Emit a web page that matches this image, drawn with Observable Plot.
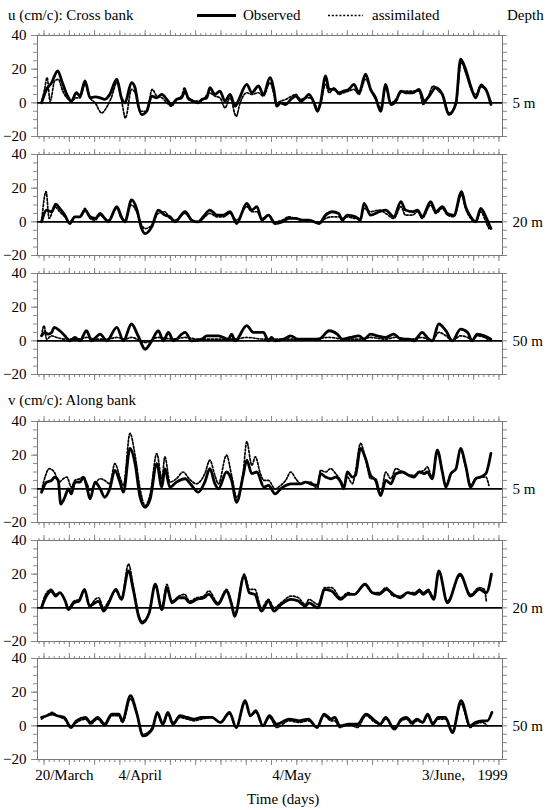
<!DOCTYPE html>
<html><head><meta charset="utf-8">
<script src="https://cdn.jsdelivr.net/npm/d3@7"></script>
<script src="https://cdn.jsdelivr.net/npm/@observablehq/plot@0.6"></script>
<style>
body{margin:0;background:#fff;}
#chart{position:relative;width:550px;height:810px;font-family:"Liberation Serif","Times New Roman",serif;color:#000;background:#fff;overflow:hidden;}
.lbl{position:absolute;font-size:15px;white-space:nowrap;line-height:15px;}
#chart svg{position:absolute;left:0;}
</style></head><body><div id="chart"></div>
<script>
// ---- data: [day since start of record, value in cm/s] ----
const u5Obs = [[0,0],[1,8],[2,12],[3.2,19],[4,13],[5,5],[5.9,1],[6.9,6],[7.6,4],[8.6,13],[9.6,3],[10.6,3.5],[11.6,3],[12.5,2],[13.5,5],[14.9,14],[15.8,3],[16.5,0],[17.8,12],[18.5,9],[19.1,-1],[19.8,-7],[20.8,-5],[21.8,4],[22.8,3],[23.8,5],[24.8,2],[25.7,-1],[26.7,2],[27.7,3],[28.4,7],[29,3],[30,1],[31,0],[31.7,2],[32.7,3],[33.3,9],[34.3,5],[35.3,7],[36.3,1],[37.3,5],[38.3,-2],[38.9,1],[40.6,11],[41.6,6],[42.9,10],[43.9,5],[45.2,15],[46,7],[46.5,-2],[47.3,0],[48.3,-1],[49.3,2],[50.3,4],[51.3,1],[52.2,3],[52.9,5],[53.9,0],[54.6,-5],[55.2,0],[56.2,16],[56.9,8],[57.9,8],[58.8,6],[59.8,7],[60.8,8],[61.8,11],[62.8,6],[64.1,17],[65.1,8],[66.1,3],[67.1,-5],[68.1,11],[69.1,-1],[70.1,1],[71.1,7],[72,6],[73.4,6],[74.7,8],[75.7,1],[76.7,4],[78,9],[79.3,5],[80.6,-7],[82,0],[82.9,26],[83.9,20],[84.9,10],[85.9,3],[86.9,10],[87.9,8],[88.9,-1]];
const u5Asm = [[0,0],[0.6,8],[1.1,15],[1.7,1],[2.6,13],[3.3,14],[4.2,7],[5,3],[5.9,1],[6.9,3],[7.6,3],[8.6,11],[9.6,3],[10.6,0],[11.9,-6],[13,-2],[13.8,3],[14.9,12],[15.8,2],[16.6,-9],[17.8,8],[18.5,6],[19.5,-5],[20.8,-5],[21.9,8],[22.8,4],[23.8,3],[24.8,0],[25.7,-2],[26.7,2],[27.7,4],[28.3,9],[29,2],[30,1],[31,1],[32,2],[33.2,6],[34.3,4],[35.3,3],[36.3,-3],[37.3,3],[38.5,-8],[39.3,0],[40.6,6],[41.6,5],[42.9,6],[43.9,4],[45.2,12],[46,5],[46.5,0],[47.3,1],[48.3,2],[49.5,4],[50.3,5],[51.3,2],[52.2,3],[53.3,3],[54,0],[54.6,-4],[55.2,0],[56.2,11],[56.9,6],[57.9,9],[58.8,5],[59.8,6],[60.8,7],[61.8,8],[62.8,5],[64.1,14],[65.1,8],[66.1,2],[67.1,-3],[68.1,9],[69.1,0],[70.1,2],[71.1,6],[72,7],[73.4,7],[74.7,7],[75.5,-1],[76.4,3],[77.5,10],[78.5,7],[79.5,4],[80.6,-6],[82,-1],[83,24],[84,17],[85,8],[86,5],[87,11],[88,7],[88.9,1]];
const u20Obs = [[0,0],[1,7],[2,6],[2.8,10.5],[3.6,8],[4.6,4],[5.6,-1],[6.6,3],[7.6,3],[8.6,7],[9.6,3],[10.6,2],[11.6,5],[12.5,2],[13.2,0],[14.9,9],[15.8,3],[16.5,0],[17.8,13],[18.8,8],[19.8,-4],[20.5,-7],[21.8,-3],[23.1,7],[24.4,4],[25.4,3],[26.4,0],[28.4,6],[29.7,1],[31,0],[32,3],[33.3,7],[34.7,4],[36,4],[37.3,6],[38.6,-1],[40.6,11],[41.6,7],[42.6,9],[43.6,1],[44.9,4],[46.2,-1],[47.6,0],[48.9,2],[50.3,2],[51.6,1],[52.9,1],[54.9,-1],[56.2,4],[57.5,6],[58.8,5],[59.5,1],[60.5,4],[62.1,3],[63.1,1],[63.8,11],[65.1,4],[66.8,6],[68.1,7],[69.7,3],[71.1,12],[72,7],[73.4,6],[74.4,7],[75.3,3],[77,12],[78,6],[79.3,9],[80.3,5],[81.6,4],[83.1,18],[83.9,9],[84.9,3],[85.9,0],[86.9,8],[87.9,3],[88.9,-4]];
const u20Asm = [[0,0],[0.9,18],[1.5,2],[2.6,9],[3.6,6],[4.6,3],[5.6,0],[6.6,3],[7.6,3],[8.6,8],[9.6,2],[10.6,1],[11.6,4],[12.5,2],[13.2,1],[14.9,8],[15.8,2],[16.5,1],[17.8,10],[18.8,6],[19.8,-2],[20.5,-4],[21.8,-2],[23.1,5],[24.4,6],[25.4,2],[26.4,1],[28.4,5],[29.7,1],[31,0],[32,2],[33.3,5],[34.7,3],[36,3],[37.3,5],[38.6,1],[40.6,9],[41.6,6],[42.6,6],[43.6,2],[44.9,4],[46.2,0],[47.6,1],[48.9,3],[50.3,2],[51.6,1],[52.9,1],[54.9,-1],[56.2,2],[57.5,3],[58.8,3],[59.5,2],[60.5,3],[62.1,2],[63.1,2],[63.8,8],[65.1,6],[66.8,7],[68.1,5],[69.7,2],[71.1,9],[72,4],[73.4,4],[74.4,6],[75.3,2],[77,10],[78,5],[79.3,8],[80.3,4],[81.6,3],[83.1,16],[83.9,8],[84.9,2],[85.9,0],[86.9,6],[87.9,0],[88.5,-4]];
const u50Obs = [[0,3],[0.7,5],[1.3,4],[2,5],[2.5,8],[3.6,6],[4.6,3],[5.6,0],[6.6,2],[7.6,0],[8.9,6],[9.9,0],[11.6,4],[12.9,0],[14.9,8],[16.2,0],[17.8,10],[19.1,3],[20.5,-5],[21.8,0],[23.1,6],[24.1,0],[25.1,5],[26.1,0],[28.4,5],[29.7,0],[31.7,1],[32.7,3],[35,3],[37,1],[37.6,4],[38.3,0],[40.6,9],[41.9,5],[43.9,5],[44.9,0],[45.5,2],[46.2,0],[47.9,1],[49.3,3],[50.6,1],[52.2,1],[53.6,1],[54.9,1],[56.9,6],[58.5,4],[59.5,1],[61.1,2],[62.8,3],[63.8,1],[65.1,4],[66.4,3],[68.1,2],[69.7,4],[71.1,1],[72.7,1],[73.7,0],[75.3,5],[76.3,2],[77.3,0],[78.6,10],[80,6],[81.3,0],[82.9,7],[84.3,5],[85.2,0],[86.2,4],[87.6,3],[88.9,1]];
const u50Asm = [[0,3],[0.5,9],[1,1],[2,3],[3,2],[5,1],[7,1],[8.9,2],[11,1],[12.9,1],[14.9,2],[16.5,1],[17.8,2],[20.5,-1],[23.1,2],[26,1],[28.4,2],[31,1],[35,1],[38,1],[40.6,2],[44,1],[47,1],[50,1],[53,1],[56.9,2],[60,1],[62.8,1],[65.1,2],[68,1],[70,2],[73,1],[75.3,2],[77.3,0],[78.6,5],[80,3],[81.3,0],[82.9,3],[84.3,2],[85.2,0],[86.2,3],[88.9,0]];
const v5Obs = [[0,-2],[1,4],[2,5],[2.6,7],[3.3,5],[3.8,-9],[4.6,-5],[5.3,0],[5.9,-3],[6.6,4],[7.6,4],[8.3,7],[8.9,2],[9.6,-6],[10.6,4],[11.6,0],[12.5,-5],[13.5,0],[14.5,11],[15.5,4],[16.2,-2],[17.5,24],[18.5,15],[19.5,-5],[20.5,-11],[21.5,-6],[22.8,15],[23.8,1],[24.4,12],[25.4,1],[26.7,4],[28.4,6],[29.7,2],[31,-2],[32.3,4],[33.3,12],[34.3,3],[35,0],[36.6,10],[37.6,5],[38.6,-8],[39.9,8],[40.6,17],[41.6,9],[42.6,10],[44,1],[44.9,2],[46.2,-3],[47.3,0],[48.3,2],[49.3,3],[50.3,3],[51.3,3],[52.2,4],[53.2,3],[54.6,2],[55.2,9],[56.2,7],[57.2,6],[58.2,7],[59.2,4],[59.8,0],[60.5,10],[61.5,7],[62.1,8],[63.1,24],[64.1,18],[65.1,8],[66.1,5],[67.1,-4],[68.1,5],[69.1,3],[70.1,9],[71.4,10],[72.7,8],[73.7,7],[74.7,10],[75.7,9],[76.3,10],[77.3,6],[78.3,23],[79.3,10],[80,1],[81,9],[82,12],[82.9,24],[83.9,14],[84.9,1],[85.9,6],[86.9,7],[87.9,9],[88.9,21]];
const v5Asm = [[0,-1],[0.8,8],[1.5,12],[2.5,10],[3.5,4],[4.3,6],[5,7],[5.9,1],[6.6,5],[7.6,6],[8.3,7],[9,3],[9.6,-1],[10.6,3],[11.6,6],[12.5,5],[13.5,3],[14.5,15],[15.5,7],[16.2,2],[17.5,33],[18.5,20],[19.5,0],[20.5,-10],[21.5,-3],[22.8,21],[23.8,6],[24.4,19],[25.4,4],[26.7,6],[28,10],[29.2,6],[30.6,3],[32.3,9],[33.3,17],[34.3,8],[35,3],[36.6,20],[37.6,8],[38.6,-5],[39.9,10],[40.6,28],[41.6,14],[42.3,19],[43.3,9],[44,5],[44.9,5],[46.2,0],[47.3,2],[48.3,5],[49.3,10],[50.3,6],[51.3,3],[52.2,4],[53.2,4],[54.6,0],[55.2,11],[56.2,10],[57.2,12],[58.2,9],[59.2,5],[59.8,2],[60.5,7],[61.5,3],[62.1,10],[63.1,27],[64.1,18],[65.1,6],[66.1,6],[67.1,-3],[68.1,10],[69.1,6],[70.1,12],[71.4,10],[72.7,8],[73.7,8],[74.7,10],[75.7,11],[76.3,13],[77.3,7],[78.3,23],[79.3,10],[80,2],[81,9],[82,12],[82.9,24],[83.9,13],[84.9,2],[85.9,6],[86.9,7],[87.9,7],[88.5,2]];
const v20Obs = [[0,0],[0.8,6],[1.9,10],[2.8,7],[3.6,9],[4.7,4],[5.3,-1],[6.4,3],[7.4,4],[8.5,11],[9.5,1],[10.6,3],[11.3,4],[12.3,-2],[13.3,3],[14.7,11],[15.8,5],[17.2,22],[18.2,10],[19.2,-5],[19.9,-9],[21.3,-3],[22.5,14],[23.8,-1],[24.8,12],[25.8,3],[27.2,6],[28.3,6],[29.3,3],[30.7,5],[32.1,6],[33.1,8],[34.9,2],[36.6,10],[37.6,2],[38.2,-5],[40.1,19],[41.1,9],[42.2,8],[43.5,-2],[44.9,4],[46,-2],[47.4,2],[49.4,5],[50.8,4],[52.2,1],[52.9,3],[54.7,0],[56,11],[57.4,10],[59.2,5],[60.6,8],[61.9,8],[64,14],[65.4,9],[66.8,8],[68.2,11],[69.6,8],[71,6],[72.4,9],[73.8,8],[74.8,10],[75.5,8],[76.5,10],[77.6,5],[78.6,22],[80.3,3],[82.8,20],[84.9,7],[86.6,11],[88,9],[89,20]];
const v20Asm = [[0,1],[0.8,8],[1.9,11],[2.8,8],[3.6,9],[4.7,4],[5.3,0],[6.4,4],[7.4,5],[8.5,10],[9.5,1],[10.6,5],[11.3,6],[12.3,0],[13.3,4],[14.7,10],[15.8,5],[17.2,26],[18.2,12],[19.2,-4],[19.9,-8],[21.3,-3],[22.5,14],[23.8,0],[24.8,14],[25.8,4],[27.2,7],[28.3,8],[29.3,4],[30.7,6],[32.1,7],[33.1,10],[34.9,3],[36.6,11],[37.6,3],[38.2,-4],[40.1,20],[41.1,11],[42.2,11],[43.5,0],[44.9,5],[46,0],[47.4,3],[49.4,7],[50.8,6],[52.2,2],[52.9,5],[54.7,2],[56,12],[57.4,12],[59.2,6],[60.6,9],[61.9,8],[64,14],[65.4,9],[66.8,9],[68.2,12],[69.6,7],[71,7],[72.4,9],[73.8,9],[74.8,11],[75.5,9],[76.5,11],[77.6,6],[78.6,21],[80.3,4],[82.8,19],[84.9,8],[86.6,12],[87.6,11],[88,4]];
const v50Obs = [[0,5],[1,6],[2.1,7],[3.1,6],[4.5,5],[5.8,-1],[6.9,3],[8.7,5],[9.7,2],[11.1,5],[12.5,1],[13.9,7],[15.3,7],[16,3],[17.6,18],[18.8,8],[20.1,-6],[21.9,-2],[22.9,8],[24,1],[25,8],[26,1],[27.4,6],[28.8,5],[30.2,4],[31.6,5],[33.7,5],[35.4,2],[37.2,8],[38.5,-1],[40.3,15],[41.3,6],[42.4,9],[43.8,0],[45.1,6],[46.5,1],[49,4],[51,3],[52.8,4],[54.5,-1],[55.9,7],[57.3,4],[58,5],[59,0],[60.8,1],[62.5,1],[64.2,7],[66,3],[67,1],[68.1,5],[69.8,-2],[71.2,4],[72.2,5],[73.3,2],[74.3,4],[75.4,2],[76.4,7],[77.4,1],[78.5,5],[79.9,5],[81.3,-4],[83,15],[84.8,0],[85.8,2],[87.2,3],[88.2,3],[89.1,8]];
const v50Asm = [[0,4],[1,6],[2.1,8],[3.1,6],[4.5,4],[5.8,0],[6.9,2],[8.7,4],[9.7,1],[11.1,4],[12.5,0],[13.9,6],[15.3,6],[16,2],[17.6,16],[18.8,7],[20.1,-5],[21.9,-1],[22.9,7],[24,1],[25,7],[26,2],[27.4,5],[28.8,4],[30.2,3],[31.6,4],[33.7,5],[35.4,2],[37.2,7],[38.5,-1],[40.3,14],[41.3,6],[42.4,8],[43.8,0],[45.1,5],[46.5,-1],[49,3],[51,2],[52.8,3],[54.5,-1],[55.9,6],[57.3,3],[58,3],[59,-1],[60.8,1],[62.5,-1],[64.2,6],[66,2],[67,1],[68.1,4],[69.8,-1],[71.2,3],[72.2,4],[73.3,1],[74.3,3],[75.4,2],[76.4,6],[77.4,2],[78.5,4],[79.9,4],[81.3,-3],[83,13],[84.8,-1],[85.8,1],[87.2,2],[88.2,0]];

const depthLabels = ["5 m", "20 m", "50 m"];
const dateTickDays = [20, 35, 65, 95];            // day counted from 1 March 1999
const dateTickLabels = ["20/March", "4/April", "4/May", "3/June,"];
const yearLabel = "1999";
const yTickLabels = [-20, 0, 20, 40];

// ---- layout ----
const startDay = 14.5;          // record start, day of March
const xDomain = [13.7, 105.7];
const yDomain = [-20, 40];
const FONT = "'Liberation Serif','Times New Roman',serif";
const frameTops = [35, 154, 273, 421, 540, 658];
const MT = 9, PH = 101;
const DOTS = "2,1.8";

const toRows = arr => arr.map(([t, v]) => ({d: startDay + t, v}));

function panel(obs, asm, depth, last) {
  const mb = last ? 52 : 9;
  const marks = [
    Plot.axisX({anchor: "top", ticks: d3.range(14, 106), tickSize: 3, tickFormat: () => "", label: null, stroke: "#888"}),
    Plot.axisX({anchor: "top", ticks: d3.range(15, 106, 5), tickSize: 6, tickFormat: () => "", label: null, stroke: "#888"}),
    Plot.axisX({anchor: "bottom", ticks: d3.range(14, 106), tickSize: 3, tickFormat: () => "", label: null, stroke: "#888"}),
    Plot.axisX({anchor: "bottom", ticks: d3.range(15, 106, 5), tickSize: 6, tickFormat: () => "", label: null, stroke: "#888"}),
    Plot.axisY({anchor: "left", ticks: d3.range(-20, 41, 5), tickSize: 4, tickFormat: () => "", label: null, stroke: "#888"}),
    Plot.axisY({anchor: "left", ticks: yTickLabels, tickSize: 6, tickPadding: 5, label: null, stroke: "#888", fill: "#000"}),
    Plot.axisY({anchor: "right", ticks: d3.range(-20, 41, 5), tickSize: 4, tickFormat: () => "", label: null, stroke: "#888"}),
    Plot.frame({stroke: "#777", strokeWidth: 1}),
    Plot.ruleY([0], {stroke: "#000", strokeWidth: 1.6}),
    Plot.line(toRows(asm), {x: "d", y: "v", curve: "monotone-x", stroke: "#000", strokeWidth: 1.7, strokeDasharray: DOTS}),
    Plot.line(toRows(obs), {x: "d", y: "v", curve: "monotone-x", stroke: "#000", strokeWidth: 2.8}),
    Plot.text([depth], {x: xDomain[1], y: 0, text: d => d, textAnchor: "start", dx: 10, fontSize: 15, fill: "#000"})
  ];
  if (last) {
    marks.push(Plot.text(dateTickDays, {x: d => d, y: yDomain[0], text: (d, i) => dateTickLabels[i], dy: 16, dx: -5, fontSize: 15, fill: "#000"}));
    marks.push(Plot.text([yearLabel], {x: xDomain[1], y: yDomain[0], text: d => d, dy: 16, dx: -10, fontSize: 15, fill: "#000"}));
  }
  return Plot.plot({
    width: 550, height: PH + MT + mb,
    marginLeft: 37, marginRight: 48, marginTop: MT, marginBottom: mb,
    x: {domain: xDomain},
    y: {domain: yDomain},
    style: {fontFamily: FONT, fontSize: "15px", background: "transparent", color: "#000", overflow: "visible"},
    marks
  });
}

const chart = document.getElementById("chart");
const series = [[u5Obs, u5Asm], [u20Obs, u20Asm], [u50Obs, u50Asm], [v5Obs, v5Asm], [v20Obs, v20Asm], [v50Obs, v50Asm]];
series.forEach(([o, a], i) => {
  const svg = panel(o, a, depthLabels[i % 3], i === 5);
  svg.style.top = (frameTops[i] - MT) + "px";
  chart.appendChild(svg);
});

function label(text, left, top, extra) {
  const el = document.createElement("div");
  el.className = "lbl";
  el.textContent = text;
  el.style.left = left + "px";
  el.style.top = top + "px";
  if (extra) Object.assign(el.style, extra);
  chart.appendChild(el);
}
label("u (cm/c): Cross bank", 8, 8);
label("Observed", 243, 8);
label("assimilated", 372, 8);
label("Depth", 507, 8);
label("v (cm/c): Along bank", 8, 393);
label("Time (days)", 247, 792);

// legend samples
const ns = "http://www.w3.org/2000/svg";
const leg = document.createElementNS(ns, "svg");
leg.setAttribute("width", 550); leg.setAttribute("height", 30);
leg.style.top = "0px";
[[197, 236, "none", 2.8], [328, 363, DOTS, 1.7]].forEach(([x1, x2, dash, w]) => {
  const l = document.createElementNS(ns, "line");
  l.setAttribute("x1", x1); l.setAttribute("x2", x2);
  l.setAttribute("y1", 15.5); l.setAttribute("y2", 15.5);
  l.setAttribute("stroke", "#000"); l.setAttribute("stroke-width", w);
  if (dash !== "none") l.setAttribute("stroke-dasharray", dash);
  leg.appendChild(l);
});
chart.appendChild(leg);
</script></body></html>
